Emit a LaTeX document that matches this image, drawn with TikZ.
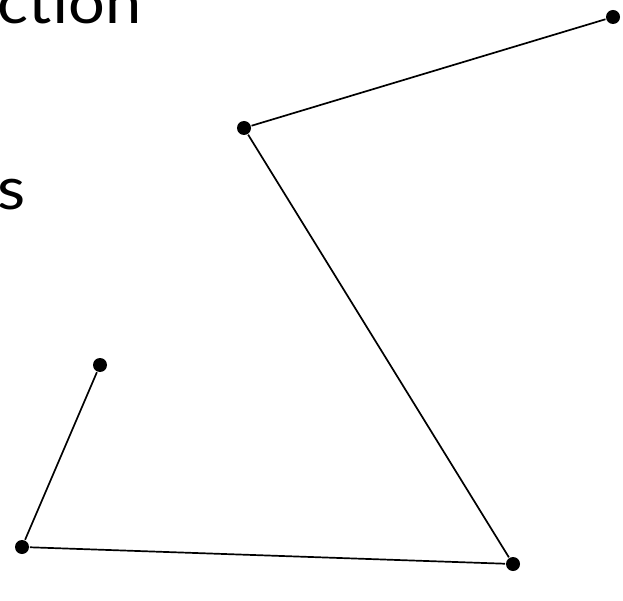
\documentclass[tikz,border=0pt]{standalone}
\usepackage{fontspec}
\setsansfont{Lato}[FakeStretch=1.1]
\begin{document}
\begin{tikzpicture}[x=1pt, y=-1pt, line width=1.7pt]
        \tikzstyle{dot} = [circle, fill=black, inner sep=0pt, minimum size=14pt]
        \tikzstyle{word} = [font=\sffamily\fontsize{59}{62}\selectfont, inner sep=0pt, anchor=base west]

        \useasboundingbox (0,0) rectangle (623,601);

        \node [word] (top) at (-3,24) {ction};
        \node [word] (mid) at (-3,210) {s};

        \node [dot] (a) at (613,17) {};
        \node [dot] (b) at (244,128) {};
        \node [dot] (c) at (513,564) {};
        \node [dot] (d) at (22,547) {};
        \node [dot] (e) at (100,365) {};

        \draw (a) -- (b) -- (c) -- (d) -- (e);

    \end{tikzpicture}
\end{document}
